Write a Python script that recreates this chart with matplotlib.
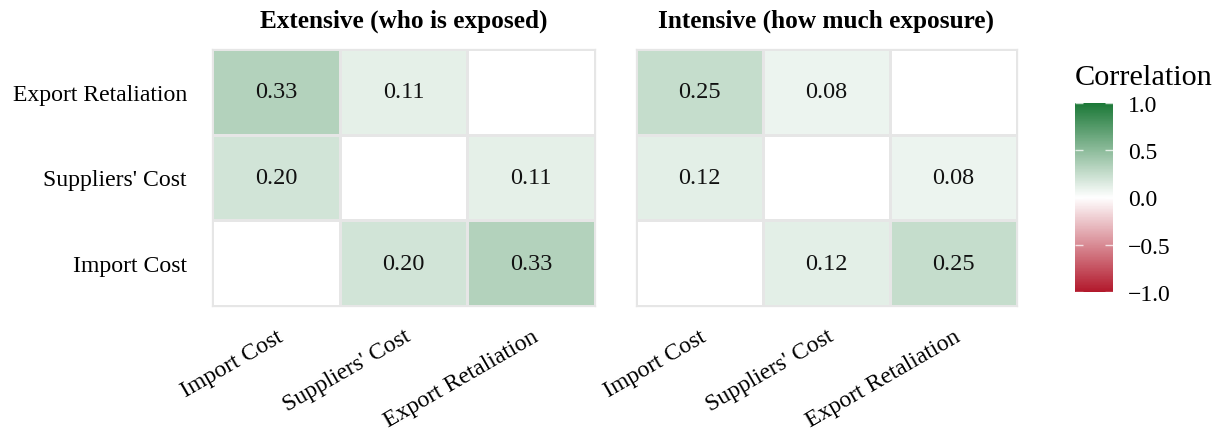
import numpy as np
import matplotlib
matplotlib.use("Agg")
import matplotlib.pyplot as plt
from matplotlib.colors import LinearSegmentedColormap, Normalize
from matplotlib.cm import ScalarMappable

plt.rcParams["font.family"] = ["Liberation Serif", "DejaVu Serif"]

# Category order: columns left->right, rows top->bottom
col_labels = ["Import Cost", "Suppliers' Cost", "Export Retaliation"]
row_labels = ["Export Retaliation", "Suppliers' Cost", "Import Cost"]

panel_titles = ["Extensive (who is exposed)", "Intensive (how much exposure)"]

# Pairwise correlations: (Import/Suppliers, Import/Export, Suppliers/Export)
extensive_pairs = [0.20, 0.33, 0.11]
intensive_pairs = [0.12, 0.25, 0.08]

cbar_ticks = [-1.0, -0.5, 0.0, 0.5, 1.0]


def build_matrix(pairs):
    names = ["Import Cost", "Suppliers' Cost", "Export Retaliation"]
    lookup = {
        frozenset((names[0], names[1])): pairs[0],
        frozenset((names[0], names[2])): pairs[1],
        frozenset((names[1], names[2])): pairs[2],
    }
    m = np.full((len(row_labels), len(col_labels)), np.nan)
    for i, r in enumerate(row_labels):
        for j, c in enumerate(col_labels):
            if r != c:
                m[i, j] = lookup[frozenset((r, c))]
    return m


cmap = LinearSegmentedColormap.from_list(
    "corr", ["#B2182B", "#FFFFFF", "#1B7837"])
cmap.set_bad("white")
norm = Normalize(-1, 1)

W, H = 1222, 435
fig = plt.figure(figsize=(W / 100, H / 100), dpi=100)

grid_col = "#E6E6E6"
panels = [(212, 595), (636, 1017)]
top_px, bot_px = 50, 307

for k, (mat, title) in enumerate(zip([build_matrix(extensive_pairs),
                                      build_matrix(intensive_pairs)],
                                     panel_titles)):
    x0, x1 = panels[k]
    ax = fig.add_axes([x0 / W, 1 - bot_px / H, (x1 - x0) / W,
                       (bot_px - top_px) / H])
    ax.pcolormesh(np.arange(4), np.arange(4), np.ma.masked_invalid(mat),
                  cmap=cmap, norm=norm, edgecolors=grid_col, linewidth=0.9)
    ax.set_xlim(0, 3)
    ax.set_ylim(3, 0)
    for i in range(3):
        for j in range(3):
            v = mat[i, j]
            if not np.isnan(v):
                ax.text(j + 0.5, i + 0.5, f"{v:.2f}", ha="center",
                        va="center", fontsize=17.5, color="#111111")
    for s in ax.spines.values():
        s.set_color(grid_col)
        s.set_linewidth(0.9)
    ax.set_xticks(np.arange(3) + 0.5)
    ax.set_xticklabels(col_labels, rotation=30, ha="right", va="top",
                       rotation_mode="anchor", fontsize=17.1)
    ax.set_yticks(np.arange(3) + 0.5)
    if k == 0:
        ax.set_yticklabels(row_labels, fontsize=17.1)
    else:
        ax.set_yticklabels([])
    ax.tick_params(length=0, pad=18, axis="y")
    ax.tick_params(length=0, pad=14, axis="x")
    ax.set_title(title, fontsize=18.2, fontweight="bold", pad=16)

# Colour bar
cax = fig.add_axes([1075 / W, 1 - 293 / H, 38 / W, (293 - 104) / H])
cb = fig.colorbar(ScalarMappable(norm=norm, cmap=cmap), cax=cax,
                  ticks=cbar_ticks)
cb.outline.set_visible(False)
cb.ax.set_yticklabels([f"{t:.1f}".replace("-", "\u2212") for t in cbar_ticks],
                      fontsize=17)
cb.ax.tick_params(direction="in", color=(1, 1, 1, 0.75), length=5.8,
                  width=1, left=True, right=True, pad=11)
fig.text(1075 / W, 1 - 78 / H, "Correlation", fontsize=21.8, ha="left",
         va="center")

fig.savefig("out.png", dpi=100)
